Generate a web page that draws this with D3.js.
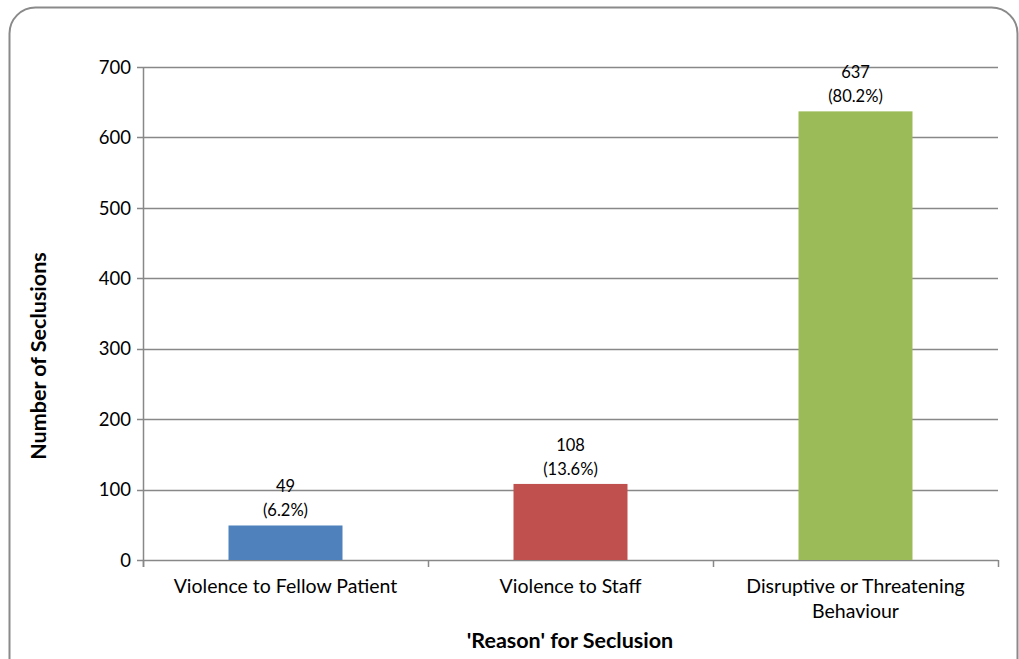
<!DOCTYPE html>
<html><head><meta charset="utf-8">
<script src="https://cdn.jsdelivr.net/npm/d3@7"></script>
<style>body{margin:0;background:#fff}svg{display:block}text{font-family:Lato,"Open Sans",sans-serif;fill:#000}</style>
</head><body>
<svg id="c" width="1019" height="659"></svg>
<script>
const categories = [["Violence to Fellow Patient"],["Violence to Staff"],["Disruptive or Threatening","Behaviour"]];
const values = [49,108,637];
const percents = ["(6.2%)","(13.6%)","(80.2%)"];
const colors = ["#4F81BD","#C0504D","#9BBB59"];
const yTicks = [0,100,200,300,400,500,600,700];

const svg = d3.select("#c");
const grid = "#888888";
svg.append("rect").attr("x",9.5).attr("y",7.5).attr("width",1008).attr("height",690).attr("rx",26)
  .attr("fill","#fff").attr("stroke","#8a8a8a").attr("stroke-width",2);

const L=143,R=998,T=67,B=560;
const y = d3.scaleLinear().domain([0,700]).range([B,T]);
const keys = categories.map(c=>c.join(" "));
const x = d3.scaleBand().domain(keys).range([L,R]).paddingInner(0.6).paddingOuter(0.3);
const xb = d3.scaleLinear().domain([0,3]).range([L,R]);

svg.append("g").selectAll("line").data(yTicks).join("line")
  .attr("x1",L-6).attr("x2",R).attr("y1",d=>Math.round(y(d))+0.5).attr("y2",d=>Math.round(y(d))+0.5)
  .attr("stroke",grid).attr("stroke-width",1.5);
svg.append("line").attr("x1",L+0.5).attr("x2",L+0.5).attr("y1",T).attr("y2",B+7).attr("stroke",grid).attr("stroke-width",1.5);
svg.append("g").selectAll("line").data([0,1,2,3]).join("line")
  .attr("x1",d=>xb(d)+0.5).attr("x2",d=>xb(d)+0.5).attr("y1",B).attr("y2",B+7).attr("stroke",grid).attr("stroke-width",1.5);
svg.append("g").selectAll("text").data(yTicks).join("text")
  .attr("x",L-12).attr("y",d=>y(d)).attr("dy","0.36em").attr("text-anchor","end")
  .style("font-size","18.5px").text(d=>d);

svg.append("g").selectAll("rect").data(values).join("rect")
  .attr("x",(d,i)=>x(keys[i])).attr("width",x.bandwidth())
  .attr("y",d=>y(d)).attr("height",d=>B-y(d)).attr("fill",(d,i)=>colors[i]);

const lab = svg.append("g").selectAll("text").data(values).join("text")
  .attr("text-anchor","middle").style("font-size","16.5px");
lab.append("tspan").attr("x",(d,i)=>x(keys[i])+x.bandwidth()/2).attr("y",d=>y(d)-33).text(d=>d);
lab.append("tspan").attr("x",(d,i)=>x(keys[i])+x.bandwidth()/2).attr("y",d=>y(d)-9).text((d,i)=>percents[i]);

const cl = svg.append("g").selectAll("text").data(categories).join("text")
  .attr("text-anchor","middle").style("font-size","19.5px");
cl.each(function(c,i){
  const t=d3.select(this), cx=x(keys[i])+x.bandwidth()/2;
  c.forEach((s,j)=>t.append("tspan").attr("x",cx).attr("y",593+j*25).text(s));
});

svg.append("text").attr("transform","translate(46,356) rotate(-90)").attr("text-anchor","middle")
  .style("font-size","21.5px").style("font-weight","bold").text("Number of Seclusions");
svg.append("text").attr("x",570).attr("y",648).attr("text-anchor","middle")
  .style("font-size","21.5px").style("font-weight","bold").text("'Reason' for Seclusion");
</script>
</body></html>
